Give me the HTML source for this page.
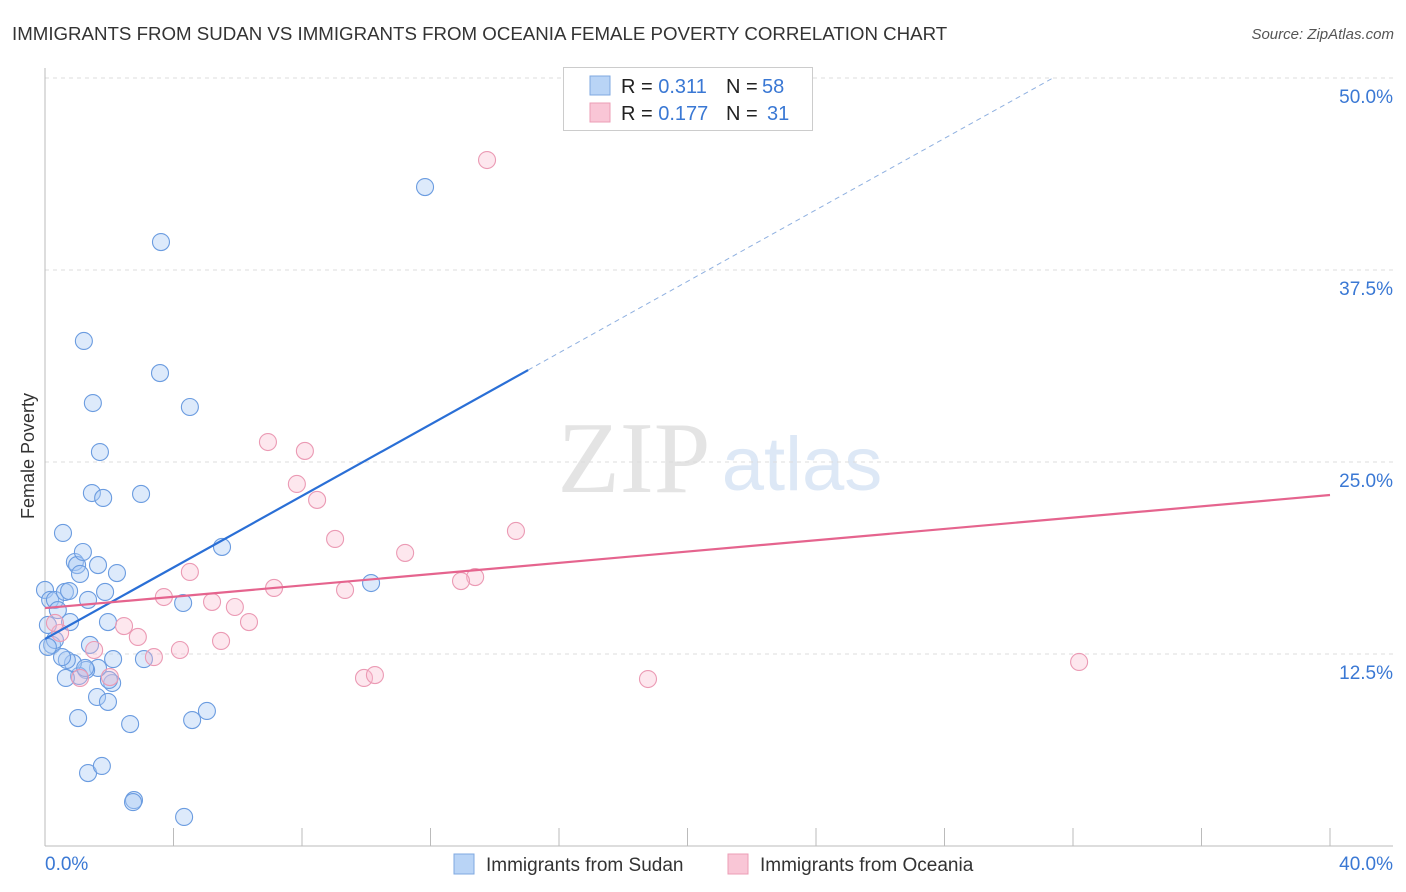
<!DOCTYPE html>
<html><head><meta charset="utf-8"><style>
body{margin:0;background:#fff;font-family:"Liberation Sans",sans-serif;}
svg{display:block}
</style></head><body>
<svg id="chart" width="1406" height="892" xmlns="http://www.w3.org/2000/svg">
<text x="12" y="40" font-size="18.7" fill="#333">IMMIGRANTS FROM SUDAN VS IMMIGRANTS FROM OCEANIA FEMALE POVERTY CORRELATION CHART</text>
<text x="1394" y="39" font-size="15" fill="#555" font-style="italic" text-anchor="end">Source: ZipAtlas.com</text>
<text x="634" y="492" font-size="102" fill="#e4e4e4" font-family="Liberation Serif,serif" text-anchor="middle">ZIP</text>
<text x="802" y="490" font-size="76" fill="#dde8f6" text-anchor="middle">atlas</text>
<text transform="translate(34,456) rotate(-90)" font-size="18" fill="#333" text-anchor="middle">Female Poverty</text>
<g id="grid"></g><g id="axes"></g><g id="marks"></g>
<g>
<rect x="563.5" y="67.5" width="249" height="63" fill="#fff" stroke="#ccc"/>
<rect x="590" y="76" width="20" height="19" fill="#b9d4f6" stroke="#7fa8e0"/>
<rect x="590" y="103" width="20" height="19" fill="#f9c6d6" stroke="#ec9db6"/>
<text x="621" y="93" font-size="20" fill="#222">R = <tspan fill="#3a78d4"> 0.311</tspan><tspan x="726">N = </tspan><tspan fill="#3a78d4" x="762">58</tspan></text>
<text x="621" y="120" font-size="20" fill="#222">R = <tspan fill="#3a78d4">0.177</tspan><tspan x="726">N = </tspan><tspan fill="#3a78d4" x="767">31</tspan></text>
</g>
<g>
<rect x="454" y="854" width="20" height="20" fill="#b9d4f6" stroke="#7fa8e0"/>
<text x="486" y="871" font-size="19" fill="#333">Immigrants from Sudan</text>
<rect x="728" y="854" width="20" height="20" fill="#f9c6d6" stroke="#ec9db6"/>
<text x="760" y="871" font-size="19" fill="#333">Immigrants from Oceania</text>
</g>
</svg>
<script>
const yTicks=[12.5,25,37.5,50];
const yTickLabels=["12.5%","25.0%","37.5%","50.0%"];
const xTicks=[0,4,8,12,16,20,24,28,32,36,40];
const sudanX=[0,0.16,0.31,0.09,0.22,0.40,0.56,0.62,0.75,0.78,0.93,1.00,1.09,1.18,1.21,1.34,1.49,1.71,1.46,1.81,1.65,1.87,1.96,2.24,2.99,3.61,3.58,4.51,5.51,4.30,3.08,2.12,2.09,1.99,1.65,1.40,1.28,1.06,0.87,0.68,0.53,0.65,0.31,0.09,1.62,1.96,1.03,2.65,4.58,5.04,1.34,1.77,2.77,2.74,4.33,11.83,10.15,1.25];
const sudanY=[16.67,16.02,16.02,14.39,13.09,15.36,20.38,16.54,16.60,14.58,18.49,18.29,17.71,19.14,32.88,16.02,28.84,25.65,22.98,22.66,18.29,16.54,14.58,17.77,22.92,39.32,30.79,28.58,19.47,15.82,12.17,12.17,10.61,10.81,11.59,13.09,11.46,11.07,11.91,12.11,12.30,10.94,13.41,12.96,9.70,9.38,8.33,7.94,8.20,8.79,4.75,5.21,2.99,2.86,1.89,42.90,17.12,11.59];
const oceX=[13.76,6.94,8.09,7.84,8.47,9.03,11.21,14.66,13.39,12.95,4.51,3.70,5.20,5.91,7.13,9.34,6.35,2.46,2.89,5.48,4.20,3.39,1.53,0.47,0.31,1.09,2.02,9.93,10.27,18.77,32.19];
const oceY=[44.66,26.30,25.72,23.57,22.53,19.99,19.08,20.51,17.51,17.25,17.84,16.21,15.89,15.56,16.80,16.67,14.58,14.32,13.61,13.35,12.76,12.30,12.76,13.87,14.52,10.94,11.00,10.94,11.13,10.87,11.98];
const sudanTrend=[13.48,1.164];
const oceTrend=[15.49,0.184];
const NS="http://www.w3.org/2000/svg";
const sx=v=>45+v*(1285/40), sy=v=>846-v*(192/12.5);
function mk(t,a,p){const e=document.createElementNS(NS,t);for(const k in a)e.setAttribute(k,a[k]);p.appendChild(e);return e;}
const grid=document.getElementById('grid'),axes=document.getElementById('axes'),marks=document.getElementById('marks');
yTicks.forEach((v,i)=>{
 const l=mk('line',{x1:45,x2:1393,y1:sy(v),y2:sy(v),stroke:'#ddd','stroke-dasharray':'4,4'},grid);
 
 
 const t=mk('text',{x:1393,y:sy(v)+25,'font-size':19,fill:'#3a78d4','text-anchor':'end'},grid);
 t.textContent=yTickLabels[i];
 
 
});
mk('line',{x1:45,x2:45,y1:68,y2:846,stroke:'#bbb'},axes);
mk('line',{x1:45,x2:1393,y1:846,y2:846,stroke:'#bbb'},axes);
xTicks.forEach(v=>{const l=mk('line',{x1:sx(v),x2:sx(v),y1:828,y2:846,stroke:'#bbb'},axes);
 
 });
let t0=mk('text',{x:45,y:870,'font-size':19,fill:'#3a78d4'},axes);t0.textContent="0.0%";


let t1=mk('text',{x:1393,y:870,'font-size':19,fill:'#3a78d4','text-anchor':'end'},axes);t1.textContent="40.0%";


sudanX.forEach((x,i)=>{const c=mk('circle',{cx:sx(x),cy:sy(sudanY[i]),r:8.5,fill:'rgba(170,202,244,0.4)',stroke:'#6b9ce0','stroke-width':1.1},marks);
 
 });
oceX.forEach((x,i)=>{const c=mk('circle',{cx:sx(x),cy:sy(oceY[i]),r:8.5,fill:'rgba(248,186,206,0.35)',stroke:'#eb9ab4','stroke-width':1.1},marks);
 
 });
const bl=mk('line',{x1:sx(0),y1:sy(sudanTrend[0]),x2:sx(15.04),y2:sy(sudanTrend[0]+sudanTrend[1]*15.04),stroke:'#2a6fd6','stroke-width':2.2},marks);


const xe=(50-sudanTrend[0])/sudanTrend[1];
const bd=mk('line',{x1:sx(15.04),y1:sy(sudanTrend[0]+sudanTrend[1]*15.04),x2:sx(xe),y2:sy(50),stroke:'#8fb0e0','stroke-width':1,'stroke-dasharray':'5,4'},marks);


const pl=mk('line',{x1:sx(0),y1:sy(oceTrend[0]),x2:sx(40),y2:sy(oceTrend[0]+oceTrend[1]*40),stroke:'#e5648e','stroke-width':2.2},marks);


</script>
</body></html>
